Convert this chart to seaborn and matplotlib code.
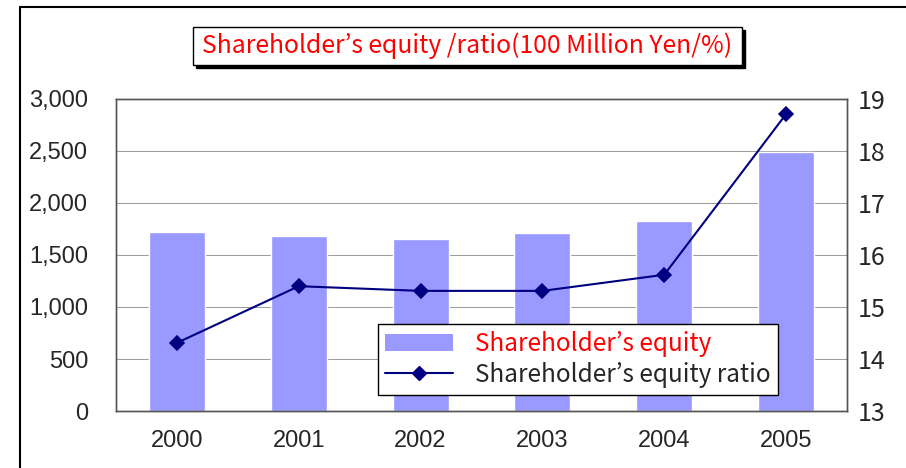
import numpy as np
import pandas as pd
import matplotlib
matplotlib.use("Agg")
import matplotlib.pyplot as plt
import seaborn as sns
from matplotlib.lines import Line2D
from matplotlib.patches import Patch, FancyBboxPatch

# data
years = ["2000", "2001", "2002", "2003", "2004", "2005"]
equity = [1721, 1683, 1654, 1712, 1827, 2490]   # 100 million yen
ratio = [14.31, 15.40, 15.31, 15.31, 15.62, 18.71]  # %
left_ticks = [0, 500, 1000, 1500, 2000, 2500, 3000]
right_ticks = [13, 14, 15, 16, 17, 18, 19]

title = "Shareholder’s equity /ratio(100 Million Yen/%)"
bar_label = "Shareholder’s equity"
line_label = "Shareholder’s equity ratio"

sns.set_style("white")
plt.rcParams['font.family'] = ['Liberation Sans', 'DejaVu Sans']
gothic = ['Noto Sans CJK JP', 'DejaVu Sans']

bar_color = "#9999FF"
line_color = "#000080"

df = pd.DataFrame({"year": years, "equity": equity, "ratio": ratio})

fig = plt.figure(figsize=(9.06, 4.68), dpi=100)
ax = fig.add_axes([116 / 906, 1 - 411 / 468, (847 - 116) / 906, (411 - 99) / 468])

sns.barplot(data=df, x="year", y="equity", color=bar_color, saturation=1,
            width=0.46, ax=ax, zorder=2)
ax.set_ylim(0, 3000)
ax.set_yticks(left_ticks)
ax.set_yticklabels([f"{v:,}" for v in left_ticks], fontsize=17)
ax.yaxis.grid(True, color="#999999", linewidth=0.7, zorder=0)
ax.set_axisbelow(True)
ax.set_xlabel("")
ax.set_ylabel("")
ax.tick_params(axis="x", length=5, direction="in", labelsize=17, pad=14,
               color="black")
ax.tick_params(axis="y", length=0, pad=20)

ax2 = ax.twinx()
sns.pointplot(data=df, x="year", y="ratio", color=line_color, markers="D",
              markersize=7, linewidth=1.5, ax=ax2)
ax2.set_xlim(-0.5, 5.5)
ax2.set_ylim(13, 19)
ax2.set_yticks(right_ticks)
ax2.set_yticklabels([str(v) for v in right_ticks], fontsize=18, family=gothic)
ax2.tick_params(axis="y", length=0, pad=8)
ax2.set_ylabel("")
ax2.set_xlabel("")

for a in (ax, ax2):
    for s in a.spines.values():
        s.set_color("#555555")
        s.set_linewidth(1)

# legend
handles = [Patch(facecolor=bar_color, edgecolor="none"),
           Line2D([], [], color=line_color, marker="D", markersize=7, linewidth=1.5)]
leg = ax2.legend(handles, [bar_label, line_label], loc="lower left",
                 bbox_to_anchor=((378 - 116) / 731, (411 - 395) / 312),
                 prop={'family': gothic, 'size': 17.5}, frameon=True, fancybox=False,
                 framealpha=1, borderpad=0.3, handlelength=2.8, handletextpad=0.9,
                 labelspacing=0.2, borderaxespad=0)
leg.get_frame().set_edgecolor("black")
leg.get_frame().set_linewidth(1)
leg.get_texts()[0].set_color("red")

# title box with shadow
fig.patches.append(FancyBboxPatch((196 / 906, 1 - 68 / 468), (742 - 193) / 906, 38 / 468,
                                  boxstyle="square,pad=0", transform=fig.transFigure,
                                  facecolor="black", edgecolor="black", zorder=1))
fig.patches.append(FancyBboxPatch((193 / 906, 1 - 65 / 468), (742 - 193) / 906, 38 / 468,
                                  boxstyle="square,pad=0", transform=fig.transFigure,
                                  facecolor="white", edgecolor="black", linewidth=1,
                                  zorder=2))
fig.text((193 + 742) / 2 / 906, 1 - 46 / 468, title, color="red", fontsize=17.8,
         family=gothic, ha="center", va="center", zorder=3)

# outer chart frame
fig.add_artist(Line2D([20 / 906, 20 / 906], [0, 1 - 7 / 468], color="black",
                      linewidth=1.5, transform=fig.transFigure))
fig.add_artist(Line2D([20 / 906, 1], [1 - 7 / 468, 1 - 7 / 468], color="black",
                      linewidth=1.5, transform=fig.transFigure))

fig.savefig("out.png", dpi=100)
